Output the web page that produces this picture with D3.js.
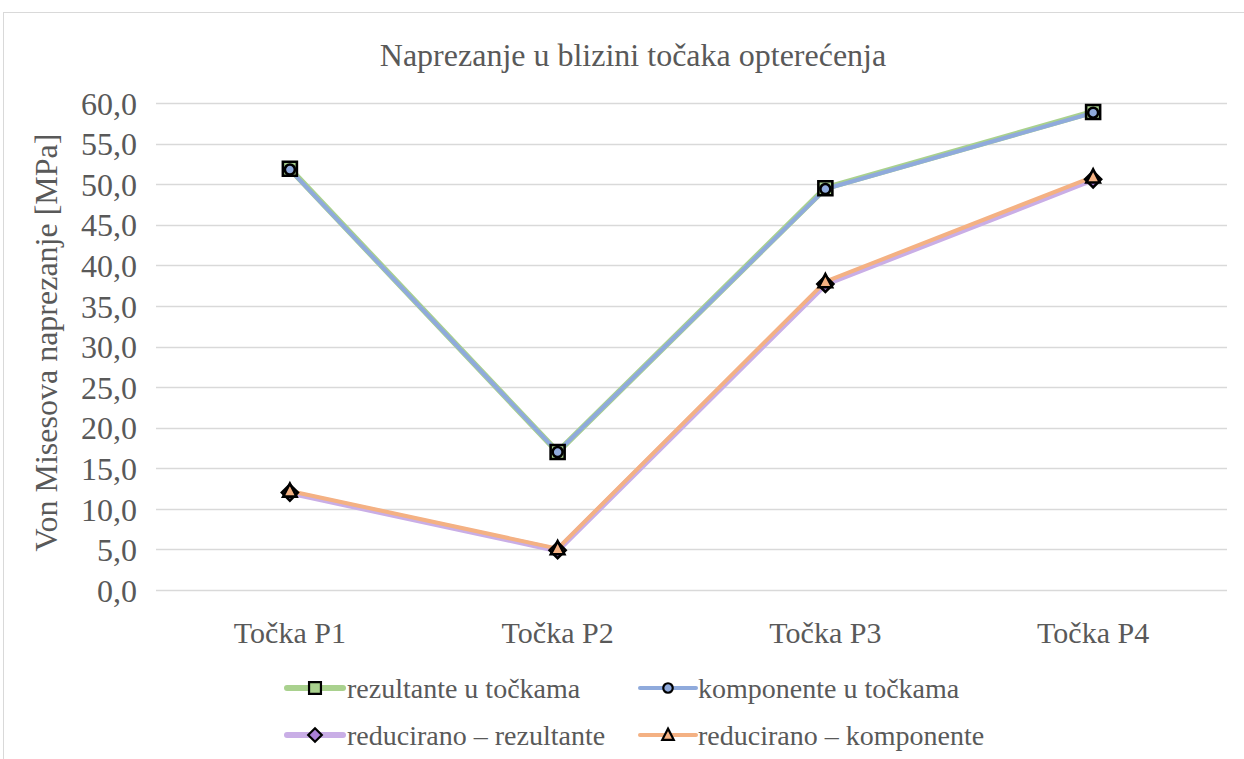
<!DOCTYPE html>
<html>
<head>
<meta charset="utf-8">
<script src="https://cdn.jsdelivr.net/npm/d3@7"></script>
<style>
  html, body { margin: 0; padding: 0; background: #fff; }
  svg { display: block; }
  text { font-family: "Liberation Serif", "Times New Roman", serif; fill: #595959; }
</style>
</head>
<body>
<svg id="chart" width="1244" height="759"></svg>
<script>
// Categories (measurement points)
const categories = ["Točka P1", "Točka P2", "Točka P3", "Točka P4"];

// Von Mises stress values [MPa] per series
const rezultante = [51.9, 17.0, 49.5, 58.9];
const komponente = [51.8, 17.0, 49.4, 58.8];
const reduciranoRezultante = [12.0, 4.9, 37.7, 50.6];
const reduciranoKomponente = [12.2, 5.1, 38.0, 50.9];

const seriesNames = ["rezultante u točkama", "komponente u točkama",
                     "reducirano – rezultante", "reducirano – komponente"];

const yTicks = [0, 5, 10, 15, 20, 25, 30, 35, 40, 45, 50, 55, 60];

const series = [
  { name: seriesNames[0], values: rezultante, line: "#A9D18E", width: 6, marker: "square", fill: "#A9D18E", size: 14 },
  { name: seriesNames[1], values: komponente, line: "#8FAADC", width: 4, marker: "circle", fill: "#8FAADC", size: 10 },
  { name: seriesNames[2], values: reduciranoRezultante, line: "#C9AEE6", width: 6, marker: "diamond", fill: "#A97FD6", size: 16 },
  { name: seriesNames[3], values: reduciranoKomponente, line: "#F4B183", width: 4, marker: "triangle", fill: "#F4B183", size: 15 }
];

const svg = d3.select("#chart");

// chart frame
svg.append("rect")
  .attr("x", 3.5).attr("y", 12.5)
  .attr("width", 1300).attr("height", 800)
  .attr("fill", "#fff").attr("stroke", "#D9D9D9").attr("stroke-width", 1);

const plot = { left: 156, right: 1227, top: 103, bottom: 590 };

const x = d3.scaleBand().domain(categories).range([plot.left, plot.right]).padding(0);
const y = d3.scaleLinear().domain([0, 60]).range([plot.bottom, plot.top]);
const cx = c => x(c) + x.bandwidth() / 2;

// gridlines
svg.append("g")
  .selectAll("line").data(yTicks).join("line")
  .attr("x1", plot.left).attr("x2", plot.right)
  .attr("y1", d => Math.round(y(d)) + 0.5).attr("y2", d => Math.round(y(d)) + 0.5)
  .attr("stroke", "#D9D9D9").attr("stroke-width", 1.3);

// y axis labels
const fmt = d => d.toFixed(1).replace(".", ",");
const yAxis = d3.axisLeft(y).tickValues(yTicks).tickFormat(fmt).tickSize(0).tickPadding(0);
const yg = svg.append("g").attr("transform", `translate(${137},0)`).call(yAxis);
yg.select(".domain").remove();
yg.selectAll("text")
  .style("font-family", "Liberation Serif, Times New Roman, serif")
  .style("font-size", "32px").attr("fill", "#595959").attr("dy", "0.35em");

// x axis labels
const xAxis = d3.axisBottom(x).tickSize(0).tickPadding(0);
const xg = svg.append("g").attr("transform", `translate(0,${plot.bottom + 42})`).call(xAxis);
xg.select(".domain").remove();
xg.selectAll("text")
  .style("font-family", "Liberation Serif, Times New Roman, serif")
  .style("font-size", "30px").attr("fill", "#595959").attr("dy", "0.35em");

// title
svg.append("text")
  .attr("x", 633).attr("y", 55).attr("dy", "0.35em")
  .attr("text-anchor", "middle").style("font-size", "32px")
  .text("Naprezanje u blizini točaka opterećenja");

// y axis title
svg.append("text")
  .attr("transform", `translate(46,${(plot.top + plot.bottom) / 2 - 4}) rotate(-90)`)
  .attr("dy", "0.35em").attr("text-anchor", "middle").style("font-size", "32px")
  .text("Von Misesova naprezanje [MPa]");

// marker shapes
const shapeMap = {
  square: d3.symbolSquare, circle: d3.symbolCircle,
  diamond: d3.symbolDiamond, triangle: d3.symbolTriangle
};
function markerPath(s) {
  const sz = s.size;
  if (s.marker === "diamond") {
    const h = sz / 2;
    return `M0,${-h}L${h},0L0,${h}L${-h},0Z`;
  }
  if (s.marker === "triangle") {
    const h = sz / 2;
    return `M0,${-h}L${h * 0.9},${h * 0.75}L${-h * 0.9},${h * 0.75}Z`;
  }
  return d3.symbol().type(shapeMap[s.marker]).size(s.marker === "square" ? sz * sz : Math.PI * sz * sz / 4)();
}

const line = d3.line().x((d, i) => cx(categories[i])).y(d => y(d));

// lines, drawn series by series so later series sit on top
series.forEach(s => {
  svg.append("path").datum(s.values)
    .attr("d", line).attr("fill", "none")
    .attr("stroke", s.line).attr("stroke-width", s.width)
    .attr("stroke-linejoin", "round").attr("stroke-linecap", "round");
});
series.forEach(s => {
  svg.append("g").selectAll("path").data(s.values).join("path")
    .attr("transform", (d, i) => `translate(${cx(categories[i])},${y(d)})`)
    .attr("d", markerPath(s))
    .attr("fill", s.fill).attr("stroke", "#000").attr("stroke-width", 2.6)
    .attr("stroke-linejoin", "miter");
});

// legend
const legendPos = [
  { x: 287, y: 688 }, { x: 640, y: 688 },
  { x: 287, y: 735 }, { x: 640, y: 735 }
];
series.forEach((s, i) => {
  const p = legendPos[i];
  const g = svg.append("g").attr("transform", `translate(${p.x},${p.y})`);
  g.append("line").attr("x1", 0).attr("x2", 56).attr("y1", 0).attr("y2", 0)
    .attr("stroke", s.line).attr("stroke-width", s.width).attr("stroke-linecap", "round");
  const ms = Object.assign({}, s, { size: s.size * (s.marker === "circle" ? 0.95 : 0.85) });
  g.append("path").attr("transform", "translate(28,0)").attr("d", markerPath(ms))
    .attr("fill", s.fill).attr("stroke", "#000").attr("stroke-width", 2.2);
  g.append("text").attr("x", i % 2 === 0 ? 60 : 58).attr("y", 0).attr("dy", "0.35em")
    .style("font-size", "28px").text(s.name);
});
</script>
</body>
</html>
